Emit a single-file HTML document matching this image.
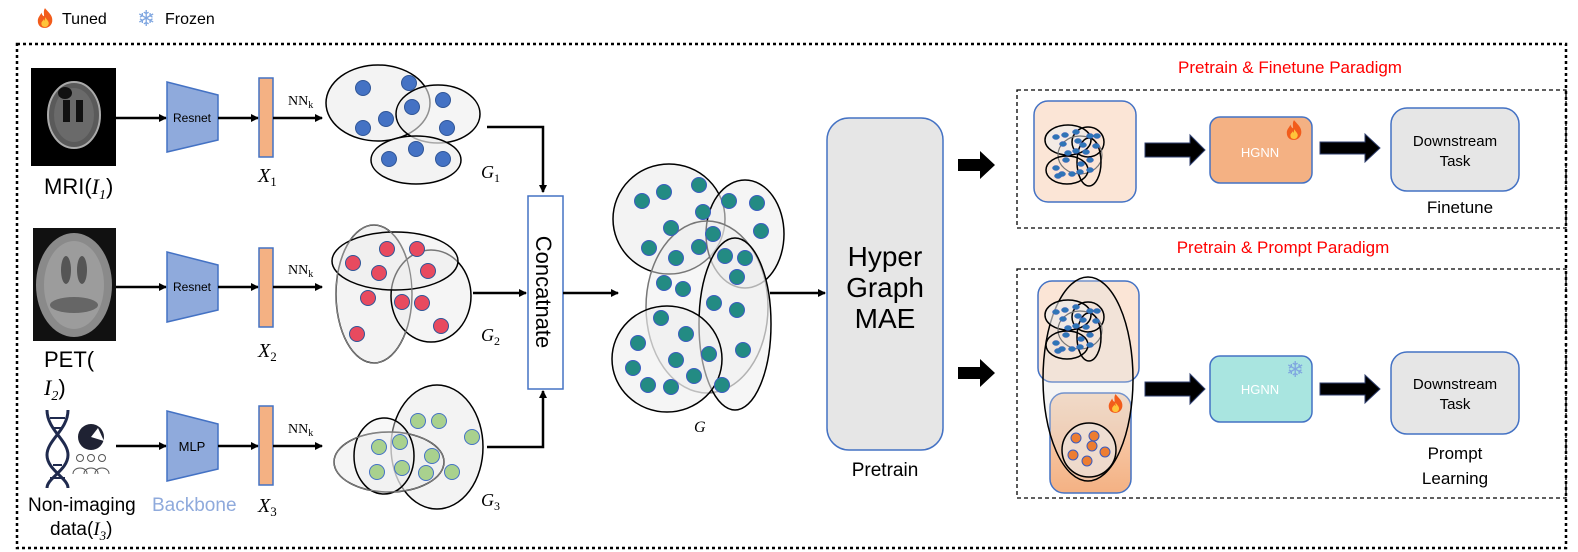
<!DOCTYPE html>
<html><head><meta charset="utf-8"><style>
html,body{margin:0;padding:0;background:#fff}
svg{display:block;font-family:"Liberation Sans",sans-serif}
.m{font-family:"Liberation Serif",serif;font-style:italic}
</style></head><body>
<svg width="1578" height="552" viewBox="0 0 1578 552" xmlns="http://www.w3.org/2000/svg">
<defs>
<marker id="ah" markerWidth="8" markerHeight="8" refX="7" refY="4" orient="auto" markerUnits="userSpaceOnUse"><path d="M0,0 L8,4 L0,8 Z" fill="#000"/></marker>
<symbol id="fire" viewBox="0 0 20 24"><path d="M10 1 C14 6 19 9 18 16 C17 21 13 23 10 23 C6 23 2 21 2 15 C2 11 5 9 6 6 C7 9 8 10 9 10 C9 7 8 4 10 1Z" fill="#f25c1b"/><path d="M10 11 C12 14 15 16 14 19 C13 22 11 22 10 22 C8 22 6 21 6 18 C6 16 8 15 9 13 C9 15 10 15 10 15Z" fill="#ffc43a"/></symbol>
<g id="mini">
<ellipse cx="0" cy="-10" rx="23" ry="15" fill="#eee" fill-opacity="0.6" stroke="#000" stroke-width="1.5"/>
<ellipse cx="20" cy="-8" rx="16" ry="15" fill="none" stroke="#000" stroke-width="1.5"/>
<ellipse cx="12" cy="5" rx="22" ry="19" fill="none" stroke="#777" stroke-width="1.2"/>
<ellipse cx="21" cy="12" rx="12" ry="24" fill="none" stroke="#000" stroke-width="1.5"/>
<ellipse cx="-1" cy="20" rx="21" ry="14" fill="none" stroke="#000" stroke-width="1.5"/>
<g fill="#2e75b6" stroke="#3a5cc0" stroke-width="0.5">
<ellipse cx="-12" cy="-13" rx="3.5" ry="2.5"/><ellipse cx="-3" cy="-15" rx="3.5" ry="2.5"/><ellipse cx="8" cy="-18" rx="3.5" ry="2.5"/><ellipse cx="-5" cy="-6" rx="3.5" ry="2.5"/><ellipse cx="10" cy="-9" rx="3.5" ry="2.5"/><ellipse cx="22" cy="-14" rx="3.5" ry="2.5"/><ellipse cx="29" cy="-14" rx="3.5" ry="2.5"/><ellipse cx="28" cy="-4" rx="3.5" ry="2.5"/><ellipse cx="15" cy="-5" rx="3.5" ry="2.5"/><ellipse cx="0" cy="3" rx="3.5" ry="2.5"/><ellipse cx="18" cy="2" rx="3.5" ry="2.5"/><ellipse cx="8" cy="1" rx="3.5" ry="2.5"/><ellipse cx="-2" cy="10" rx="3.5" ry="2.5"/><ellipse cx="13" cy="14" rx="3.5" ry="2.5"/><ellipse cx="22" cy="10" rx="3.5" ry="2.5"/><ellipse cx="-12" cy="18" rx="3.5" ry="2.5"/><ellipse cx="-6" cy="24" rx="3.5" ry="2.5"/><ellipse cx="4" cy="24" rx="3.5" ry="2.5"/><ellipse cx="12" cy="22" rx="3.5" ry="2.5"/><ellipse cx="22" cy="20" rx="3.5" ry="2.5"/><ellipse cx="-10" cy="26" rx="3.5" ry="2.5"/>
</g></g>
</defs>

<use href="#fire" x="36" y="7" width="18" height="22"/>
<text x="62" y="24" font-size="16">Tuned</text>
<text x="137" y="26" font-size="22" fill="#7fa6e0">❄</text>
<text x="165" y="24" font-size="16">Frozen</text>

<rect x="17" y="44" width="1549" height="504" fill="none" stroke="#000" stroke-width="2.5" stroke-dasharray="3,3"/>

<rect x="31" y="68" width="85" height="98" fill="#000"/>
<ellipse cx="74" cy="115" rx="26" ry="33" fill="#5a5a5a" stroke="#aaa" stroke-width="2"/>
<ellipse cx="74" cy="115" rx="20" ry="27" fill="#6a6a6a"/>
<rect x="63" y="100" width="7" height="22" fill="#111"/><rect x="76" y="100" width="7" height="22" fill="#111"/>
<ellipse cx="65" cy="93" rx="7" ry="6" fill="#111"/>
<text x="44" y="194" font-size="22">MRI(<tspan class="m">I</tspan><tspan class="m" font-size="14" dy="5">1</tspan><tspan dy="-5">)</tspan></text>
<line x1="116" y1="118" x2="166" y2="118" stroke="#000" stroke-width="2.5" marker-end="url(#ah)"/>
<polygon points="167,82 218,95 218,140 167,152" fill="#8faadc" stroke="#4472c4" stroke-width="1.5"/>
<text x="192" y="122" font-size="12" text-anchor="middle">Resnet</text>
<line x1="218" y1="118" x2="258" y2="118" stroke="#000" stroke-width="2.5" marker-end="url(#ah)"/>
<rect x="259" y="78" width="14" height="79" fill="#f4b183" stroke="#4472c4" stroke-width="1.5"/>
<text x="258" y="182" font-size="20" class="m">X<tspan font-size="13" dy="4" font-style="normal">1</tspan></text>
<text x="288" y="105" font-size="14" font-family="Liberation Serif">NN<tspan font-size="10" dy="3">k</tspan></text>
<line x1="273" y1="118" x2="322" y2="118" stroke="#000" stroke-width="2.5" marker-end="url(#ah)"/>
<ellipse cx="378" cy="103" rx="52" ry="38" fill="#eee" fill-opacity="0.7" stroke="#000" stroke-width="1.5"/>
<ellipse cx="438" cy="114" rx="42" ry="29" fill="#eee" fill-opacity="0.6" stroke="#000" stroke-width="1.5"/>
<ellipse cx="416" cy="160" rx="45" ry="24" fill="#eee" fill-opacity="0.7" stroke="#000" stroke-width="1.5"/>
<g fill="#4472c4" stroke="#2f5597" stroke-width="1">
<circle cx="363" cy="88" r="7.5"/><circle cx="409" cy="83" r="7.5"/><circle cx="412" cy="107" r="7.5"/><circle cx="443" cy="100" r="7.5"/><circle cx="447" cy="128" r="7.5"/><circle cx="386" cy="119" r="7.5"/><circle cx="363" cy="128" r="7.5"/><circle cx="416" cy="149" r="7.5"/><circle cx="389" cy="159" r="7.5"/><circle cx="443" cy="159" r="7.5"/>
</g>
<text x="481" y="178" font-size="18" class="m">G<tspan font-size="12" dy="4" font-style="normal">1</tspan></text>
<polyline points="487,127 543,127 543,192" fill="none" stroke="#000" stroke-width="2.5" marker-end="url(#ah)"/>

<rect x="33" y="228" width="83" height="113" fill="#111"/>
<ellipse cx="74" cy="285" rx="38" ry="52" fill="#8a8a8a"/>
<ellipse cx="74" cy="285" rx="30" ry="44" fill="#9c9c9c"/>
<ellipse cx="66" cy="270" rx="5" ry="14" fill="#555"/><ellipse cx="82" cy="270" rx="5" ry="14" fill="#555"/>
<ellipse cx="74" cy="305" rx="24" ry="8" fill="#666"/>
<text x="44" y="367" font-size="22">PET(</text>
<text x="44" y="395" font-size="22"><tspan class="m">I</tspan><tspan class="m" font-size="14" dy="5">2</tspan><tspan dy="-5">)</tspan></text>
<line x1="116" y1="287" x2="166" y2="287" stroke="#000" stroke-width="2.5" marker-end="url(#ah)"/>
<polygon points="167,252 218,265 218,310 167,322" fill="#8faadc" stroke="#4472c4" stroke-width="1.5"/>
<text x="192" y="291" font-size="12" text-anchor="middle">Resnet</text>
<line x1="218" y1="287" x2="258" y2="287" stroke="#000" stroke-width="2.5" marker-end="url(#ah)"/>
<rect x="259" y="248" width="14" height="79" fill="#f4b183" stroke="#4472c4" stroke-width="1.5"/>
<text x="258" y="357" font-size="20" class="m">X<tspan font-size="13" dy="4" font-style="normal">2</tspan></text>
<text x="288" y="274" font-size="14" font-family="Liberation Serif">NN<tspan font-size="10" dy="3">k</tspan></text>
<line x1="273" y1="287" x2="322" y2="287" stroke="#000" stroke-width="2.5" marker-end="url(#ah)"/>
<ellipse cx="374" cy="294" rx="38" ry="69" fill="#eee" fill-opacity="0.7" stroke="#000" stroke-width="1.5"/>
<ellipse cx="431" cy="296" rx="40" ry="46" fill="#eee" fill-opacity="0.6" stroke="#000" stroke-width="1.5"/>
<ellipse cx="395" cy="261" rx="63" ry="29" fill="#eee" fill-opacity="0.5" stroke="#000" stroke-width="1.5"/>
<ellipse cx="374" cy="294" rx="38" ry="69" fill="none" stroke="#888" stroke-width="1"/>
<g fill="#e84a5f" stroke="#2f5597" stroke-width="1">
<circle cx="353" cy="263" r="7.5"/><circle cx="387" cy="249" r="7.5"/><circle cx="417" cy="249" r="7.5"/><circle cx="379" cy="273" r="7.5"/><circle cx="428" cy="271" r="7.5"/><circle cx="368" cy="298" r="7.5"/><circle cx="402" cy="302" r="7.5"/><circle cx="422" cy="303" r="7.5"/><circle cx="441" cy="326" r="7.5"/><circle cx="357" cy="334" r="7.5"/>
</g>
<text x="481" y="341" font-size="18" class="m">G<tspan font-size="12" dy="4" font-style="normal">2</tspan></text>
<line x1="473" y1="293" x2="526" y2="293" stroke="#000" stroke-width="2.5" marker-end="url(#ah)"/>

<g stroke="#1f2a4e" stroke-width="3" fill="none">
<path d="M47,410 C47,430 68,440 68,455 C68,470 47,478 47,488"/>
<path d="M68,410 C68,430 47,440 47,455 C47,470 68,478 68,488"/>
</g>
<g stroke="#1f2a4e" stroke-width="2"><line x1="50" y1="418" x2="65" y2="418"/><line x1="53" y1="428" x2="62" y2="428"/><line x1="53" y1="465" x2="62" y2="465"/><line x1="50" y1="478" x2="65" y2="478"/></g>
<circle cx="91" cy="437" r="13" fill="#1f2233"/>
<path d="M91,437 L98,428 L104,441 Z" fill="#fff"/>
<g fill="none" stroke="#555" stroke-width="1"><circle cx="80" cy="458" r="3.5"/><circle cx="91" cy="458" r="3.5"/><circle cx="102" cy="458" r="3.5"/><path d="M73,474 c0,-8 14,-8 14,0 M84,474 c0,-8 14,-8 14,0 M95,474 c0,-8 14,-8 14,0"/></g>
<text x="28" y="511" font-size="19">Non-imaging</text>
<text x="50" y="535" font-size="19">data(<tspan class="m">I</tspan><tspan class="m" font-size="13" dy="5">3</tspan><tspan dy="-5">)</tspan></text>
<text x="152" y="511" font-size="19" fill="#8faadc">Backbone</text>
<line x1="116" y1="446" x2="166" y2="446" stroke="#000" stroke-width="2.5" marker-end="url(#ah)"/>
<polygon points="167,411 218,424 218,469 167,481" fill="#8faadc" stroke="#4472c4" stroke-width="1.5"/>
<text x="192" y="451" font-size="13" text-anchor="middle">MLP</text>
<line x1="218" y1="446" x2="258" y2="446" stroke="#000" stroke-width="2.5" marker-end="url(#ah)"/>
<rect x="259" y="406" width="14" height="79" fill="#f4b183" stroke="#4472c4" stroke-width="1.5"/>
<text x="258" y="512" font-size="20" class="m">X<tspan font-size="13" dy="4" font-style="normal">3</tspan></text>
<text x="288" y="433" font-size="14" font-family="Liberation Serif">NN<tspan font-size="10" dy="3">k</tspan></text>
<line x1="273" y1="446" x2="322" y2="446" stroke="#000" stroke-width="2.5" marker-end="url(#ah)"/>
<ellipse cx="437" cy="447" rx="46" ry="62" fill="#eee" fill-opacity="0.7" stroke="#000" stroke-width="1.5"/>
<ellipse cx="389" cy="462" rx="55" ry="30" fill="#eee" fill-opacity="0.6" stroke="#000" stroke-width="1.5"/>
<ellipse cx="384" cy="456" rx="30" ry="38" fill="#eee" fill-opacity="0.4" stroke="#000" stroke-width="1.5"/>
<ellipse cx="389" cy="462" rx="55" ry="30" fill="none" stroke="#888" stroke-width="1"/>
<g fill="#a9d18e" stroke="#4472c4" stroke-width="1">
<circle cx="418" cy="421" r="7.5"/><circle cx="439" cy="421" r="7.5"/><circle cx="472" cy="437" r="7.5"/><circle cx="379" cy="447" r="7.5"/><circle cx="400" cy="442" r="7.5"/><circle cx="432" cy="456" r="7.5"/><circle cx="377" cy="472" r="7.5"/><circle cx="402" cy="468" r="7.5"/><circle cx="426" cy="473" r="7.5"/><circle cx="452" cy="472" r="7.5"/>
</g>
<text x="481" y="506" font-size="18" class="m">G<tspan font-size="12" dy="4" font-style="normal">3</tspan></text>
<polyline points="487,447 543,447 543,391" fill="none" stroke="#000" stroke-width="2.5" marker-end="url(#ah)"/>

<rect x="528" y="196" width="35" height="193" fill="#fff" stroke="#4472c4" stroke-width="1.5"/>
<text transform="translate(536,292) rotate(90)" font-size="22" text-anchor="middle">Concatnate</text>
<line x1="563" y1="293" x2="618" y2="293" stroke="#000" stroke-width="2.5" marker-end="url(#ah)"/>

<ellipse cx="669" cy="219" rx="56" ry="55" fill="#eee" fill-opacity="0.7" stroke="#000" stroke-width="1.5"/>
<ellipse cx="745" cy="234" rx="39" ry="54" fill="#eee" fill-opacity="0.6" stroke="#000" stroke-width="1.5"/>
<ellipse cx="707" cy="307" rx="61" ry="86" fill="#eee" fill-opacity="0.5" stroke="#777" stroke-width="1.5"/>
<ellipse cx="735" cy="324" rx="36" ry="86" fill="#eee" fill-opacity="0.5" stroke="#000" stroke-width="1.5"/>
<ellipse cx="667" cy="359" rx="55" ry="53" fill="#eee" fill-opacity="0.6" stroke="#000" stroke-width="1.5"/>
<g fill="#238b83" stroke="#3a5cc0" stroke-width="1">
<circle cx="642" cy="201" r="7.5"/><circle cx="664" cy="192" r="7.5"/><circle cx="699" cy="185" r="7.5"/><circle cx="703" cy="212" r="7.5"/><circle cx="729" cy="201" r="7.5"/><circle cx="757" cy="203" r="7.5"/><circle cx="761" cy="231" r="7.5"/><circle cx="671" cy="228" r="7.5"/><circle cx="713" cy="234" r="7.5"/><circle cx="649" cy="248" r="7.5"/><circle cx="676" cy="258" r="7.5"/><circle cx="699" cy="247" r="7.5"/><circle cx="725" cy="256" r="7.5"/><circle cx="745" cy="258" r="7.5"/><circle cx="737" cy="277" r="7.5"/><circle cx="664" cy="283" r="7.5"/><circle cx="683" cy="289" r="7.5"/><circle cx="714" cy="303" r="7.5"/><circle cx="737" cy="310" r="7.5"/><circle cx="661" cy="318" r="7.5"/><circle cx="686" cy="334" r="7.5"/><circle cx="638" cy="343" r="7.5"/><circle cx="709" cy="354" r="7.5"/><circle cx="743" cy="350" r="7.5"/><circle cx="676" cy="360" r="7.5"/><circle cx="633" cy="368" r="7.5"/><circle cx="694" cy="376" r="7.5"/><circle cx="648" cy="385" r="7.5"/><circle cx="671" cy="387" r="7.5"/><circle cx="722" cy="385" r="7.5"/>
</g>
<text x="694" y="432" font-size="16" class="m">G</text>
<line x1="770" y1="293" x2="825" y2="293" stroke="#000" stroke-width="2.5" marker-end="url(#ah)"/>

<rect x="827" y="118" width="116" height="332" rx="22" fill="#e6e6e6" stroke="#4472c4" stroke-width="1.5"/>
<text x="885" y="266" font-size="28" text-anchor="middle">Hyper</text>
<text x="885" y="297" font-size="28" text-anchor="middle">Graph</text>
<text x="885" y="328" font-size="28" text-anchor="middle">MAE</text>
<text x="885" y="476" font-size="19" text-anchor="middle">Pretrain</text>

<polygon points="958,159 980,159 980,151 995,165 980,179 980,171 958,171" fill="#000"/>
<polygon points="958,367 980,367 980,359 995,373 980,387 980,379 958,379" fill="#000"/>

<text x="1290" y="73" font-size="17" fill="#ff0000" text-anchor="middle">Pretrain &amp; Finetune Paradigm</text>
<rect x="1017" y="90" width="549" height="138" fill="none" stroke="#000" stroke-width="1.3" stroke-dasharray="4,3"/>
<rect x="1034" y="101" width="102" height="101" rx="14" fill="#fbe5d6" stroke="#4472c4" stroke-width="1.5"/>
<use href="#mini" x="1068" y="150"/>
<polygon points="1145,143 1190,143 1190,135 1205,150 1190,165 1190,157 1145,157" fill="#000" stroke="#2f3f6f" stroke-width="1"/>
<rect x="1210" y="117" width="102" height="66" rx="10" fill="#f4b183" stroke="#4472c4" stroke-width="1.5"/>
<text x="1260" y="157" font-size="13" fill="#fff" text-anchor="middle">HGNN</text>
<use href="#fire" x="1285" y="119" width="18" height="22"/>
<polygon points="1320,142 1365,142 1365,134 1380,148 1365,162 1365,154 1320,154" fill="#000" stroke="#2f3f6f" stroke-width="1"/>
<rect x="1391" y="108" width="128" height="83" rx="16" fill="#e6e6e6" stroke="#4472c4" stroke-width="1.5"/>
<text x="1455" y="146" font-size="15" text-anchor="middle">Downstream</text>
<text x="1455" y="166" font-size="15" text-anchor="middle">Task</text>
<text x="1460" y="213" font-size="17" text-anchor="middle">Finetune</text>

<text x="1283" y="253" font-size="17" fill="#ff0000" text-anchor="middle">Pretrain &amp; Prompt Paradigm</text>
<rect x="1017" y="269" width="549" height="229" fill="none" stroke="#000" stroke-width="1.3" stroke-dasharray="4,3"/>
<rect x="1038" y="281" width="101" height="101" rx="14" fill="#fbe5d6" stroke="#4472c4" stroke-width="1.5"/>
<defs><linearGradient id="og" x1="0" y1="0" x2="0" y2="1"><stop offset="0" stop-color="#f8d9c0"/><stop offset="1" stop-color="#f4b183"/></linearGradient></defs>
<rect x="1050" y="393" width="81" height="100" rx="14" fill="url(#og)" stroke="#4472c4" stroke-width="1.5"/>
<ellipse cx="1088" cy="379" rx="45" ry="102" fill="#ddd" fill-opacity="0.3" stroke="#000" stroke-width="1.5"/>
<use href="#mini" x="1068" y="325"/>
<use href="#fire" x="1107" y="393" width="17" height="21"/>
<circle cx="1089" cy="450" r="27" fill="#eee" fill-opacity="0.5" stroke="#000" stroke-width="1.5"/>
<g fill="#ed7d31" stroke="#3a5cc0" stroke-width="1"><circle cx="1076" cy="438" r="5"/><circle cx="1094" cy="436" r="5"/><circle cx="1092" cy="446" r="5"/><circle cx="1073" cy="455" r="5"/><circle cx="1105" cy="452" r="5"/><circle cx="1087" cy="461" r="5"/></g>
<polygon points="1145,382 1190,382 1190,374 1205,389 1190,404 1190,396 1145,396" fill="#000" stroke="#2f3f6f" stroke-width="1"/>
<rect x="1210" y="356" width="102" height="66" rx="10" fill="#a9e5e0" stroke="#4472c4" stroke-width="1.5"/>
<text x="1260" y="394" font-size="13" fill="#fff" text-anchor="middle">HGNN</text>
<text x="1286" y="377" font-size="22" fill="#7fa6e0">❄</text>
<polygon points="1320,383 1365,383 1365,375 1380,389 1365,403 1365,395 1320,395" fill="#000" stroke="#2f3f6f" stroke-width="1"/>
<rect x="1391" y="352" width="128" height="82" rx="16" fill="#e6e6e6" stroke="#4472c4" stroke-width="1.5"/>
<text x="1455" y="389" font-size="15" text-anchor="middle">Downstream</text>
<text x="1455" y="409" font-size="15" text-anchor="middle">Task</text>
<text x="1455" y="459" font-size="17" text-anchor="middle">Prompt</text>
<text x="1455" y="484" font-size="17" text-anchor="middle">Learning</text>
</svg>
</body></html>
